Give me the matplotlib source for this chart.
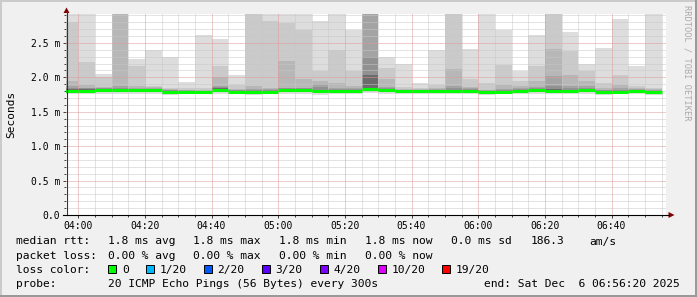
import datetime as dt
import matplotlib
matplotlib.use("Agg")
import matplotlib.pyplot as plt
import matplotlib.dates as mdates
from matplotlib.ticker import MultipleLocator, FuncFormatter
from matplotlib.patches import Rectangle, Polygon
from matplotlib.lines import Line2D

W, H = 697, 297

plt.rcParams['font.family'] = ['DejaVu Sans Mono']

# ---- data (ms) : one value per 5 minute step, first step starts 03:55 ----
t_first = dt.datetime(2025, 12, 6, 3, 55)
t_start = dt.datetime(2025, 12, 6, 3, 56, 20)
t_end = dt.datetime(2025, 12, 6, 6, 56, 20)
step_min = 5

# smoke band upper edges, outer (lightest) to inner (darkest); 3.0 = above graph
band1 = [3.0, 3.0, 2.05, 3.0, 2.27, 2.40, 2.30, 1.93, 2.61, 2.56, 2.04, 3.0,
         3.0, 3.0, 3.0, 2.825, 3.0, 2.69, 3.0, 2.30, 2.195, 1.92, 2.39, 3.0,
         2.41, 3.0, 2.69, 2.09, 2.62, 3.0, 2.66, 2.195, 2.43, 2.85, 2.16, 3.0]
band2 = [2.80, 2.22, 2.00, 3.0, 2.16, 1.88, 1.85, 1.84, 1.84, 2.17, 1.89, 3.0,
         2.815, 2.79, 2.69, 2.09, 2.39, 2.09, 3.0, 2.14, 1.86, 1.85, 1.89, 3.0,
         1.97, 1.92, 2.185, 1.95, 2.17, 3.0, 2.38, 2.09, 1.92, 2.04, 1.87, 1.85]
band3 = [1.95, 1.89, 1.86, 3.0, 1.87, 1.855, 1.83, 1.82, 1.815, 2.00, 1.83, 1.87,
         1.85, 2.24, 1.98, 1.94, 1.92, 1.87, 3.0, 1.97, 1.83, 1.83, 1.85, 2.12,
         1.86, 1.82, 1.89, 1.87, 1.94, 2.41, 2.04, 1.95, 1.84, 1.89, 1.84, 1.83]
band4 = [1.88, 1.85, 1.85, 1.87, 1.845, 1.845, 1.815, 1.81, 1.805, 1.87, 1.815, 1.83,
         1.83, 1.85, 1.85, 1.91, 1.85, 1.84, 3.0, 1.86, 1.82, 1.815, 1.83, 1.87,
         1.84, 1.81, 1.83, 1.84, 1.86, 2.02, 1.87, 1.88, 1.82, 1.85, 1.83, 1.81]
band5 = [1.85, 1.84, 1.84, 1.85, 1.835, 1.835, 1.81, 1.80, 1.80, 1.855, 1.81, 1.815,
         1.815, 1.84, 1.84, 1.86, 1.835, 1.83, 2.29, 1.845, 1.815, 1.81, 1.82, 1.84,
         1.83, 1.80, 1.815, 1.83, 1.84, 1.87, 1.84, 1.85, 1.81, 1.82, 1.82, 1.80]
band6 = [1.83, 1.825, 1.83, 1.83, 1.83, 1.83, 1.80, 1.795, 1.795, 1.84, 1.80, 1.80,
         1.805, 1.825, 1.83, 1.82, 1.82, 1.82, 2.04, 1.83, 1.805, 1.80, 1.81, 1.82,
         1.815, 1.795, 1.80, 1.82, 1.825, 1.83, 1.82, 1.83, 1.80, 1.805, 1.815, 1.795]
ping_min = [1.755, 1.76, 1.765, 1.76, 1.76, 1.765, 1.745, 1.755, 1.755, 1.765, 1.76, 1.745,
            1.755, 1.76, 1.765, 1.745, 1.755, 1.76, 1.77, 1.76, 1.755, 1.76, 1.76, 1.755,
            1.76, 1.75, 1.755, 1.76, 1.755, 1.76, 1.755, 1.76, 1.75, 1.755, 1.76, 1.75]
low_inner = [1.785, 1.785, 1.79, 1.79, 1.785, 1.79, 1.765, 1.77, 1.77, 1.795, 1.77, 1.765,
             1.77, 1.79, 1.79, 1.78, 1.785, 1.785, 1.80, 1.79, 1.775, 1.775, 1.775, 1.775,
             1.78, 1.77, 1.77, 1.785, 1.79, 1.78, 1.78, 1.79, 1.77, 1.77, 1.785, 1.765]
median = [1.805, 1.805, 1.815, 1.81, 1.815, 1.815, 1.785, 1.785, 1.785, 1.82, 1.79, 1.78,
          1.79, 1.81, 1.812, 1.80, 1.805, 1.805, 1.824, 1.81, 1.795, 1.795, 1.795, 1.795,
          1.80, 1.785, 1.79, 1.805, 1.81, 1.80, 1.80, 1.812, 1.79, 1.79, 1.805, 1.785]

band_colors = ['#dddddd', '#cacaca', '#b7b7b7', '#a4a4a4', '#919191', '#6b6b6b']
loss_labels = ['0', '1/20', '2/20', '3/20', '4/20', '10/20', '19/20']
loss_colors = ['#00ff00', '#00b8ff', '#0059ff', '#5e00ff', '#7e00ff', '#dd00ff', '#ff0000']


def fx(x):
    return x / W


def fy(y):
    return 1 - y / H


fig = plt.figure(figsize=(W / 100, H / 100), dpi=100, facecolor='#f0f0f0')
ax = fig.add_axes([fx(66), fy(215), 600 / W, 201 / H])
ax.set_facecolor('white')

n = len(median)
x0 = mdates.date2num(t_first)
wd = step_min / 1440.0
xs = [x0 + i * wd for i in range(n)]

# smoke
bands = [band1, band2, band3, band4, band5, band6]
for k, (top, col) in enumerate(zip(bands, band_colors)):
    if k == 0:
        low = ping_min
    elif k < 3:
        low = low_inner
    else:
        low = median
    ax.bar(xs, [t - b for t, b in zip(top, low)], bottom=low, width=wd,
           align='edge', color=col, linewidth=0, zorder=1)

# median rtt, coloured by loss (all 0 here)
ax.hlines(median, xs, [x + wd for x in xs], colors=loss_colors[0], lw=2.2,
          capstyle='butt', zorder=5)

ax.set_xlim(mdates.date2num(t_start), mdates.date2num(t_end))
ax.set_ylim(0, 2.92)

ax.yaxis.set_major_locator(MultipleLocator(0.5))
ax.yaxis.set_minor_locator(MultipleLocator(0.1))
ax.yaxis.set_major_formatter(FuncFormatter(lambda v, p: '0.0' if v == 0 else '%.1f m' % v))
ax.xaxis.set_major_locator(mdates.MinuteLocator(byminute=[0, 20, 40]))
ax.xaxis.set_minor_locator(mdates.MinuteLocator(byminute=range(0, 60, 5)))
ax.xaxis.set_major_formatter(mdates.DateFormatter('%H:%M'))

# grid drawn over the smoke, like rrdtool does
dots = (0, (1, 1))
for v in ax.yaxis.get_minorticklocs():
    ax.axhline(v, color='#c8c8c8', ls=dots, lw=0.72, zorder=3)
for v in ax.xaxis.get_minorticklocs():
    ax.axvline(v, color='#c8c8c8', ls=dots, lw=0.72, zorder=3)
for v in ax.yaxis.get_majorticklocs():
    if 0 < v < 2.92:
        ax.axhline(v, color='#e09a9a', ls=dots, lw=0.72, zorder=3)
for v in ax.xaxis.get_majorticklocs():
    ax.axvline(v, color='#e09a9a', ls=dots, lw=0.72, zorder=3)

ax.tick_params(which='major', length=2.2, width=0.72, color='#444444',
               direction='out', labelsize=7, pad=2.2)
ax.tick_params(which='minor', length=1.4, width=0.72, color='#444444', direction='out')
for s in ax.spines.values():
    s.set_visible(False)

# axis lines and arrows
fig.add_artist(Line2D([fx(66.5), fx(66.5)], [fy(215), fy(11)], color='#333333', lw=0.8))
fig.add_artist(Line2D([fx(63), fx(669)], [fy(215), fy(215)], color='#000000', lw=0.8))
fig.add_artist(Polygon([(fx(66.5), fy(7.5)), (fx(63.5), fy(13)), (fx(69.5), fy(13))],
                       closed=True, color='#7f0000', lw=0))
fig.add_artist(Polygon([(fx(674.5), fy(215)), (fx(668.5), fy(212)), (fx(668.5), fy(218))],
                       closed=True, color='#7f0000', lw=0))

# frame shading
fig.add_artist(Rectangle((0, fy(2)), 1, 2 / H, color='#cbcbcb', lw=0))
fig.add_artist(Rectangle((0, 0), 2 / W, 1, color='#cbcbcb', lw=0))
fig.add_artist(Rectangle((0, 0), 1, 2 / H, color='#999999', lw=0))
fig.add_artist(Rectangle((1 - 2 / W, 0), 2 / W, 1, color='#999999', lw=0))

fig.text(fx(11), fy(114), 'Seconds', rotation=90, ha='center', va='center', fontsize=8)
fig.text(fx(687), fy(5), 'RRDTOOL / TOBI OETIKER', rotation=270, ha='center', va='top',
         color='#aaaaaa', fontsize=6.2)

# legend
fs = 8.1
rows = [244.5, 258.7, 272.9, 287.1]
fig.text(fx(16), fy(rows[0]), 'median rtt:', fontsize=fs, va='baseline')
for xp, s in zip([107.6, 193.3, 279, 365.3, 451, 531, 589],
                 ['1.8 ms avg', '1.8 ms max', '1.8 ms min', '1.8 ms now',
                  '0.0 ms sd', '186.3', 'am/s']):
    fig.text(fx(xp), fy(rows[0]), s, fontsize=fs, va='baseline')
fig.text(fx(16), fy(rows[1]), 'packet loss:', fontsize=fs, va='baseline')
for xp, s in zip([107.6, 193.3, 279, 365.3],
                 ['0.00 % avg', '0.00 % max', '0.00 % min', '0.00 % now']):
    fig.text(fx(xp), fy(rows[1]), s, fontsize=fs, va='baseline')
fig.text(fx(16), fy(rows[2]), 'loss color:', fontsize=fs, va='baseline')
box_x = [108, 145.5, 203.5, 261.5, 320, 378, 442]
for bx, lab, col in zip(box_x, loss_labels, loss_colors):
    fig.add_artist(Rectangle((fx(bx), fy(273)), 8 / W, 8 / H, facecolor=col,
                             edgecolor='black', lw=0.7))
    fig.text(fx(bx + 14), fy(rows[2]), lab, fontsize=fs, va='baseline')
fig.text(fx(16), fy(rows[3]), 'probe:', fontsize=fs, va='baseline')
fig.text(fx(107.6), fy(rows[3]), '20 ICMP Echo Pings (56 Bytes) every 300s',
         fontsize=fs, va='baseline')
fig.text(fx(680), fy(rows[3]), 'end: Sat Dec  6 06:56:20 2025', fontsize=fs,
         va='baseline', ha='right')

fig.savefig('out.png', dpi=100, facecolor=fig.get_facecolor())
